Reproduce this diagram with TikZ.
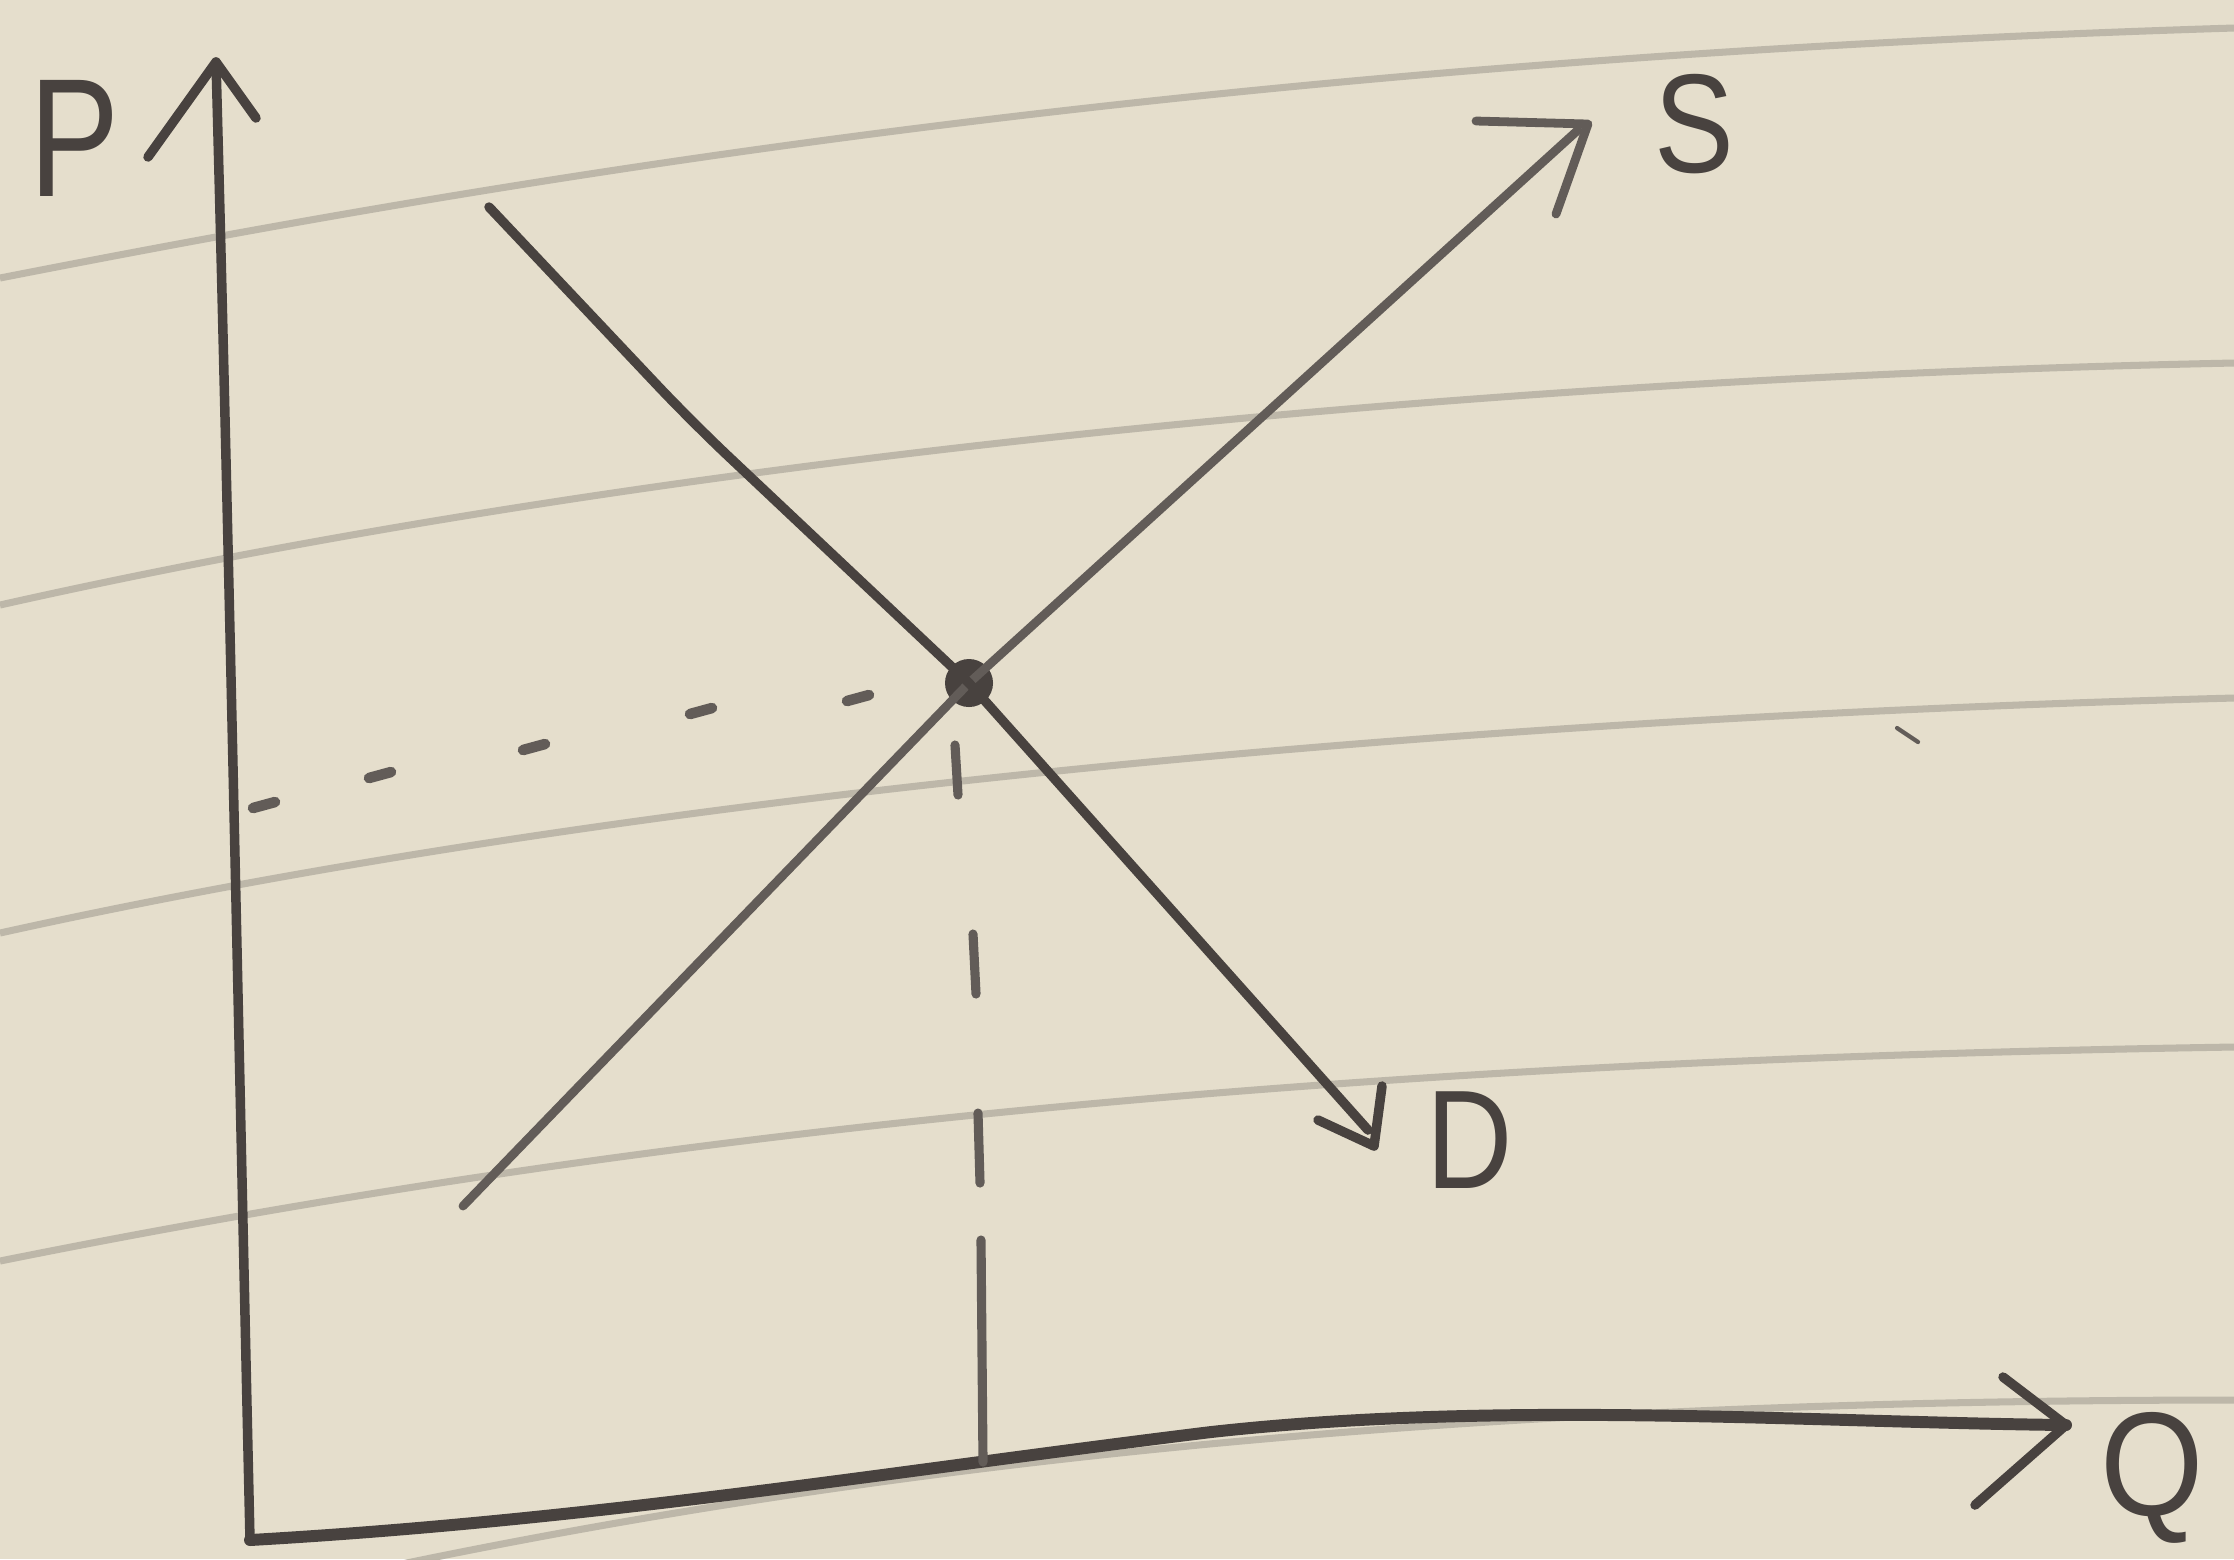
\documentclass[tikz,border=0pt]{standalone}
\usepackage{fontspec}
\setsansfont{Liberation Sans}
\definecolor{paper}{HTML}{E5DECC}
\definecolor{rulec}{HTML}{BDB7A9}
\definecolor{inkc}{HTML}{48423F}
\definecolor{inkl}{HTML}{625C58}
\begin{document}
\begin{tikzpicture}[x=0.01cm,y=-0.01cm,
  ink/.style={draw=inkc, line width=2.7pt, line cap=round, line join=round},
  sline/.style={ink, draw=inkl, line width=2.5pt},
  ruled/.style={draw=rulec, line width=2pt},
  dsh/.style={draw=inkl, line width=3pt, line cap=round},
  lbl/.style={text=inkc, font=\sffamily, inner sep=0pt}]
% paper
\fill[paper] (0,0) rectangle (2234,1559);
\useasboundingbox (0,0) rectangle (2234,1559);
% ruled lines
\draw[ruled] (0,278) .. controls (500,180) and (1200,60) .. (2234,28);
\draw[ruled] (0,605) .. controls (600,470) and (1400,380) .. (2234,363);
\draw[ruled] (0,933) .. controls (600,800) and (1400,720) .. (2234,698);
\draw[ruled] (0,1261) .. controls (700,1120) and (1400,1060) .. (2234,1047);
\draw[ruled] (0,1660) .. controls (700,1470) and (1400,1400) .. (2234,1400);
% stray mark
\draw[draw=inkl, line width=1.2pt, line cap=round] (1897,728) -- (1918,742);
% coordinates
\coordinate (ytip) at (216,62);
\coordinate (yw1) at (148,157);
\coordinate (yw2) at (256,118);
\coordinate (orig) at (250,1540);
\coordinate (xmid) at (1211,1432);
\coordinate (xtip) at (2066,1425);
\coordinate (xw1) at (2003,1377);
\coordinate (xw2) at (1975,1505);
% axes
\draw[ink] (ytip) .. controls (228,500) and (240,1100) .. (orig);
\draw[ink] (yw1) -- (ytip) -- (yw2);
\draw[ink, line width=3.4pt] (orig) .. controls (600,1520) and (900,1470) .. (xmid)
   .. controls (1500,1400) and (1800,1422) .. (xtip);
\draw[ink] (xw1) -- (xtip) -- (xw2);
% equilibrium
\node[circle, fill=inkc, inner sep=0pt, minimum size=0.48cm] (eq) at (969,683) {};
% supply
\coordinate (sA) at (463,1206);
\coordinate (send) at (1578,130);
\coordinate (stip) at (1588,124);
\coordinate (sw1) at (1476,121);
\coordinate (sw2) at (1556,214);
\draw[sline] (sA) -- (eq.center) -- (send);
\draw[sline] (sw1) -- (stip) -- (sw2);
% demand
\coordinate (dA) at (489,207);
\coordinate (d1) at (692,422);
\coordinate (dend) at (1368,1130);
\coordinate (dtip) at (1374,1146);
\coordinate (dw1) at (1318,1120);
\coordinate (dw2) at (1382,1086);
\draw[ink, rounded corners=14pt] (dA) -- (d1) -- (eq.center);
\draw[ink] (eq.center) -- (dend);
\draw[ink] (dw1) -- (dtip) -- (dw2);
% horizontal dashed guide
\foreach \x/\y in {264/805, 380/775, 534/747, 701/711, 858/698}
  \draw[dsh] (\x-11,\y+3) -- (\x+11,\y-3);
% vertical dashed guide
\draw[dsh, line width=2.6pt] (955,745) -- (958,795);
\draw[dsh, line width=2.6pt] (973,934) -- (976,994);
\draw[dsh, line width=2.6pt] (978,1113) -- (980,1183);
\draw[dsh, line width=2.6pt] (981,1240) -- (983,1462);
% labels
\node[lbl, font=\sffamily\fontsize{48}{48}\selectfont, xscale=0.8] (P) at (75,138) {P};
\node[lbl, font=\sffamily\fontsize{40}{40}\selectfont, xscale=0.85] (S) at (1694,124) {S};
\node[lbl, font=\sffamily\fontsize{40}{40}\selectfont, xscale=0.85] (D) at (1470,1140) {D};
\node[lbl, font=\sffamily\fontsize{42}{42}\selectfont, xscale=0.9] (Q) at (2152,1478) {Q};
\end{tikzpicture}
\end{document}
